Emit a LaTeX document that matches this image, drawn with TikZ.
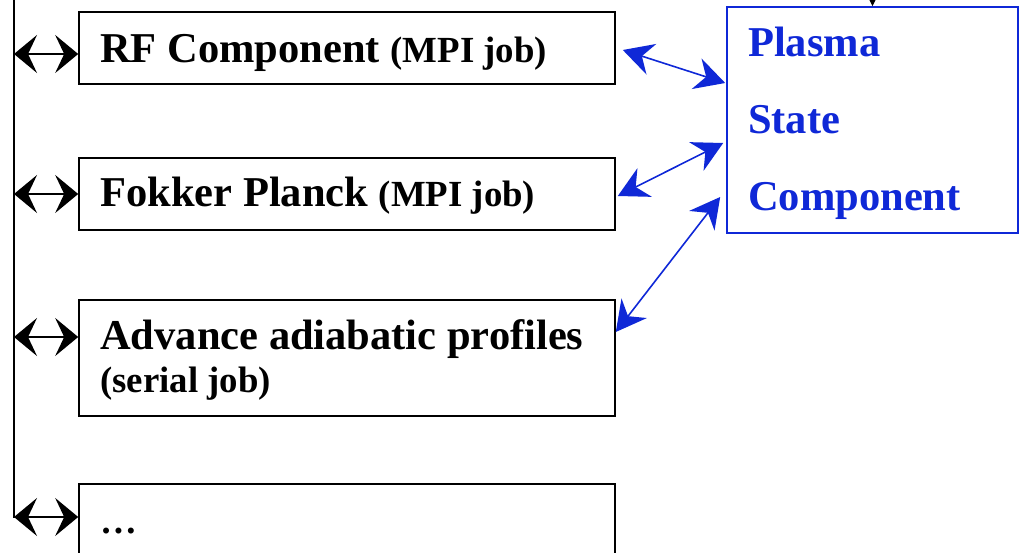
\documentclass[tikz,border=0pt]{standalone}
\usepackage{fontspec}
\setmainfont{Liberation Serif}
\usetikzlibrary{arrows.meta}
\definecolor{psblue}{RGB}{15,40,215}
\tikzset{
  jobbox/.style={draw=black, line width=1.6pt, rectangle, minimum width=536pt, inner sep=0pt},
  psbox/.style={draw=psblue, line width=1.6pt, rectangle, minimum width=291pt, minimum height=226pt, inner sep=0pt},
  big/.style={font=\fontsize{42.5}{46}\selectfont\bfseries, anchor=base west, inner sep=0pt},
  small/.style={font=\fontsize{36.8}{40}\selectfont\bfseries, anchor=base west, inner sep=0pt},
  bluebig/.style={big, text=psblue},
  busline/.style={draw=black, line width=1.8pt},
  btip/.tip={Stealth[length=23pt,width=38pt,inset=9pt]},
  ptip/.tip={Stealth[length=30pt,width=32pt,inset=10pt]},
  busarrow/.style={draw=black, line width=1.8pt, btip-btip},
  psarrow/.style={draw=psblue, line width=1.6pt, ptip-ptip},
  toparrow/.style={draw=black, line width=1.2pt, -{Stealth[length=13pt,width=13pt]}}
}
\begin{document}
\begin{tikzpicture}[x=1pt,y=-1pt]
\clip (0,0) rectangle (1020,553);
% boxes
\node[jobbox, minimum height=72pt] (b1) at (347,48) {};
\node[jobbox, minimum height=72pt] (b2) at (347,194) {};
\node[jobbox, minimum height=116pt] (b3) at (347,358) {};
\node[jobbox, minimum height=110pt] (b4) at (347,539) {};
\node[psbox] (ps) at (872.5,120) {};
% texts
\node[big] (t1) at (100,63) {RF Component \fontsize{36.8}{40}\selectfont(MPI job)};
\node[big] (t2) at (100,207) {Fokker Planck \fontsize{36.8}{40}\selectfont(MPI job)};
\node[big] (t3a) at (100,349) {Advance adiabatic profiles};
\node[small] (t3b) at (100,392) {(serial job)};
\node[small] (t4) at (100,533) {…};
\node[bluebig] (p1) at (748,57) {Plasma};
\node[bluebig] (p2) at (748,134) {State};
\node[bluebig] (p3) at (748,211) {Component};
% bus
\coordinate (bustop) at (14,0);
\coordinate (busbot) at (14,517.9);
\draw[busline] (bustop) -- (busbot);
\coordinate (a1) at (14,54);
\coordinate (a2) at (14,194);
\coordinate (a3) at (14,337);
\coordinate (a4) at (14,517);
\draw[busarrow] (a1) -- (a1 -| b1.west);
\draw[busarrow] (a2) -- (a2 -| b2.west);
\draw[busarrow] (a3) -- (a3 -| b3.west);
\draw[busarrow] (a4) -- (a4 -| b4.west);
% top arrow into plasma state
\coordinate (topsrc) at (872.5,-20);
\draw[toparrow] (topsrc) -- (ps.north);
% blue arrows
\draw[psarrow] ([xshift=7pt,yshift=-2pt]b1.east) -- ([xshift=-1pt,yshift=37pt]ps.west);
\draw[psarrow] ([xshift=2pt,yshift=-2pt]b2.east) -- ([xshift=-3pt,yshift=-23pt]ps.west);
\draw[psarrow] ([xshift=0pt,yshift=26pt]b3.east) -- ([xshift=-6pt,yshift=-77pt]ps.west);
\end{tikzpicture}
\end{document}
